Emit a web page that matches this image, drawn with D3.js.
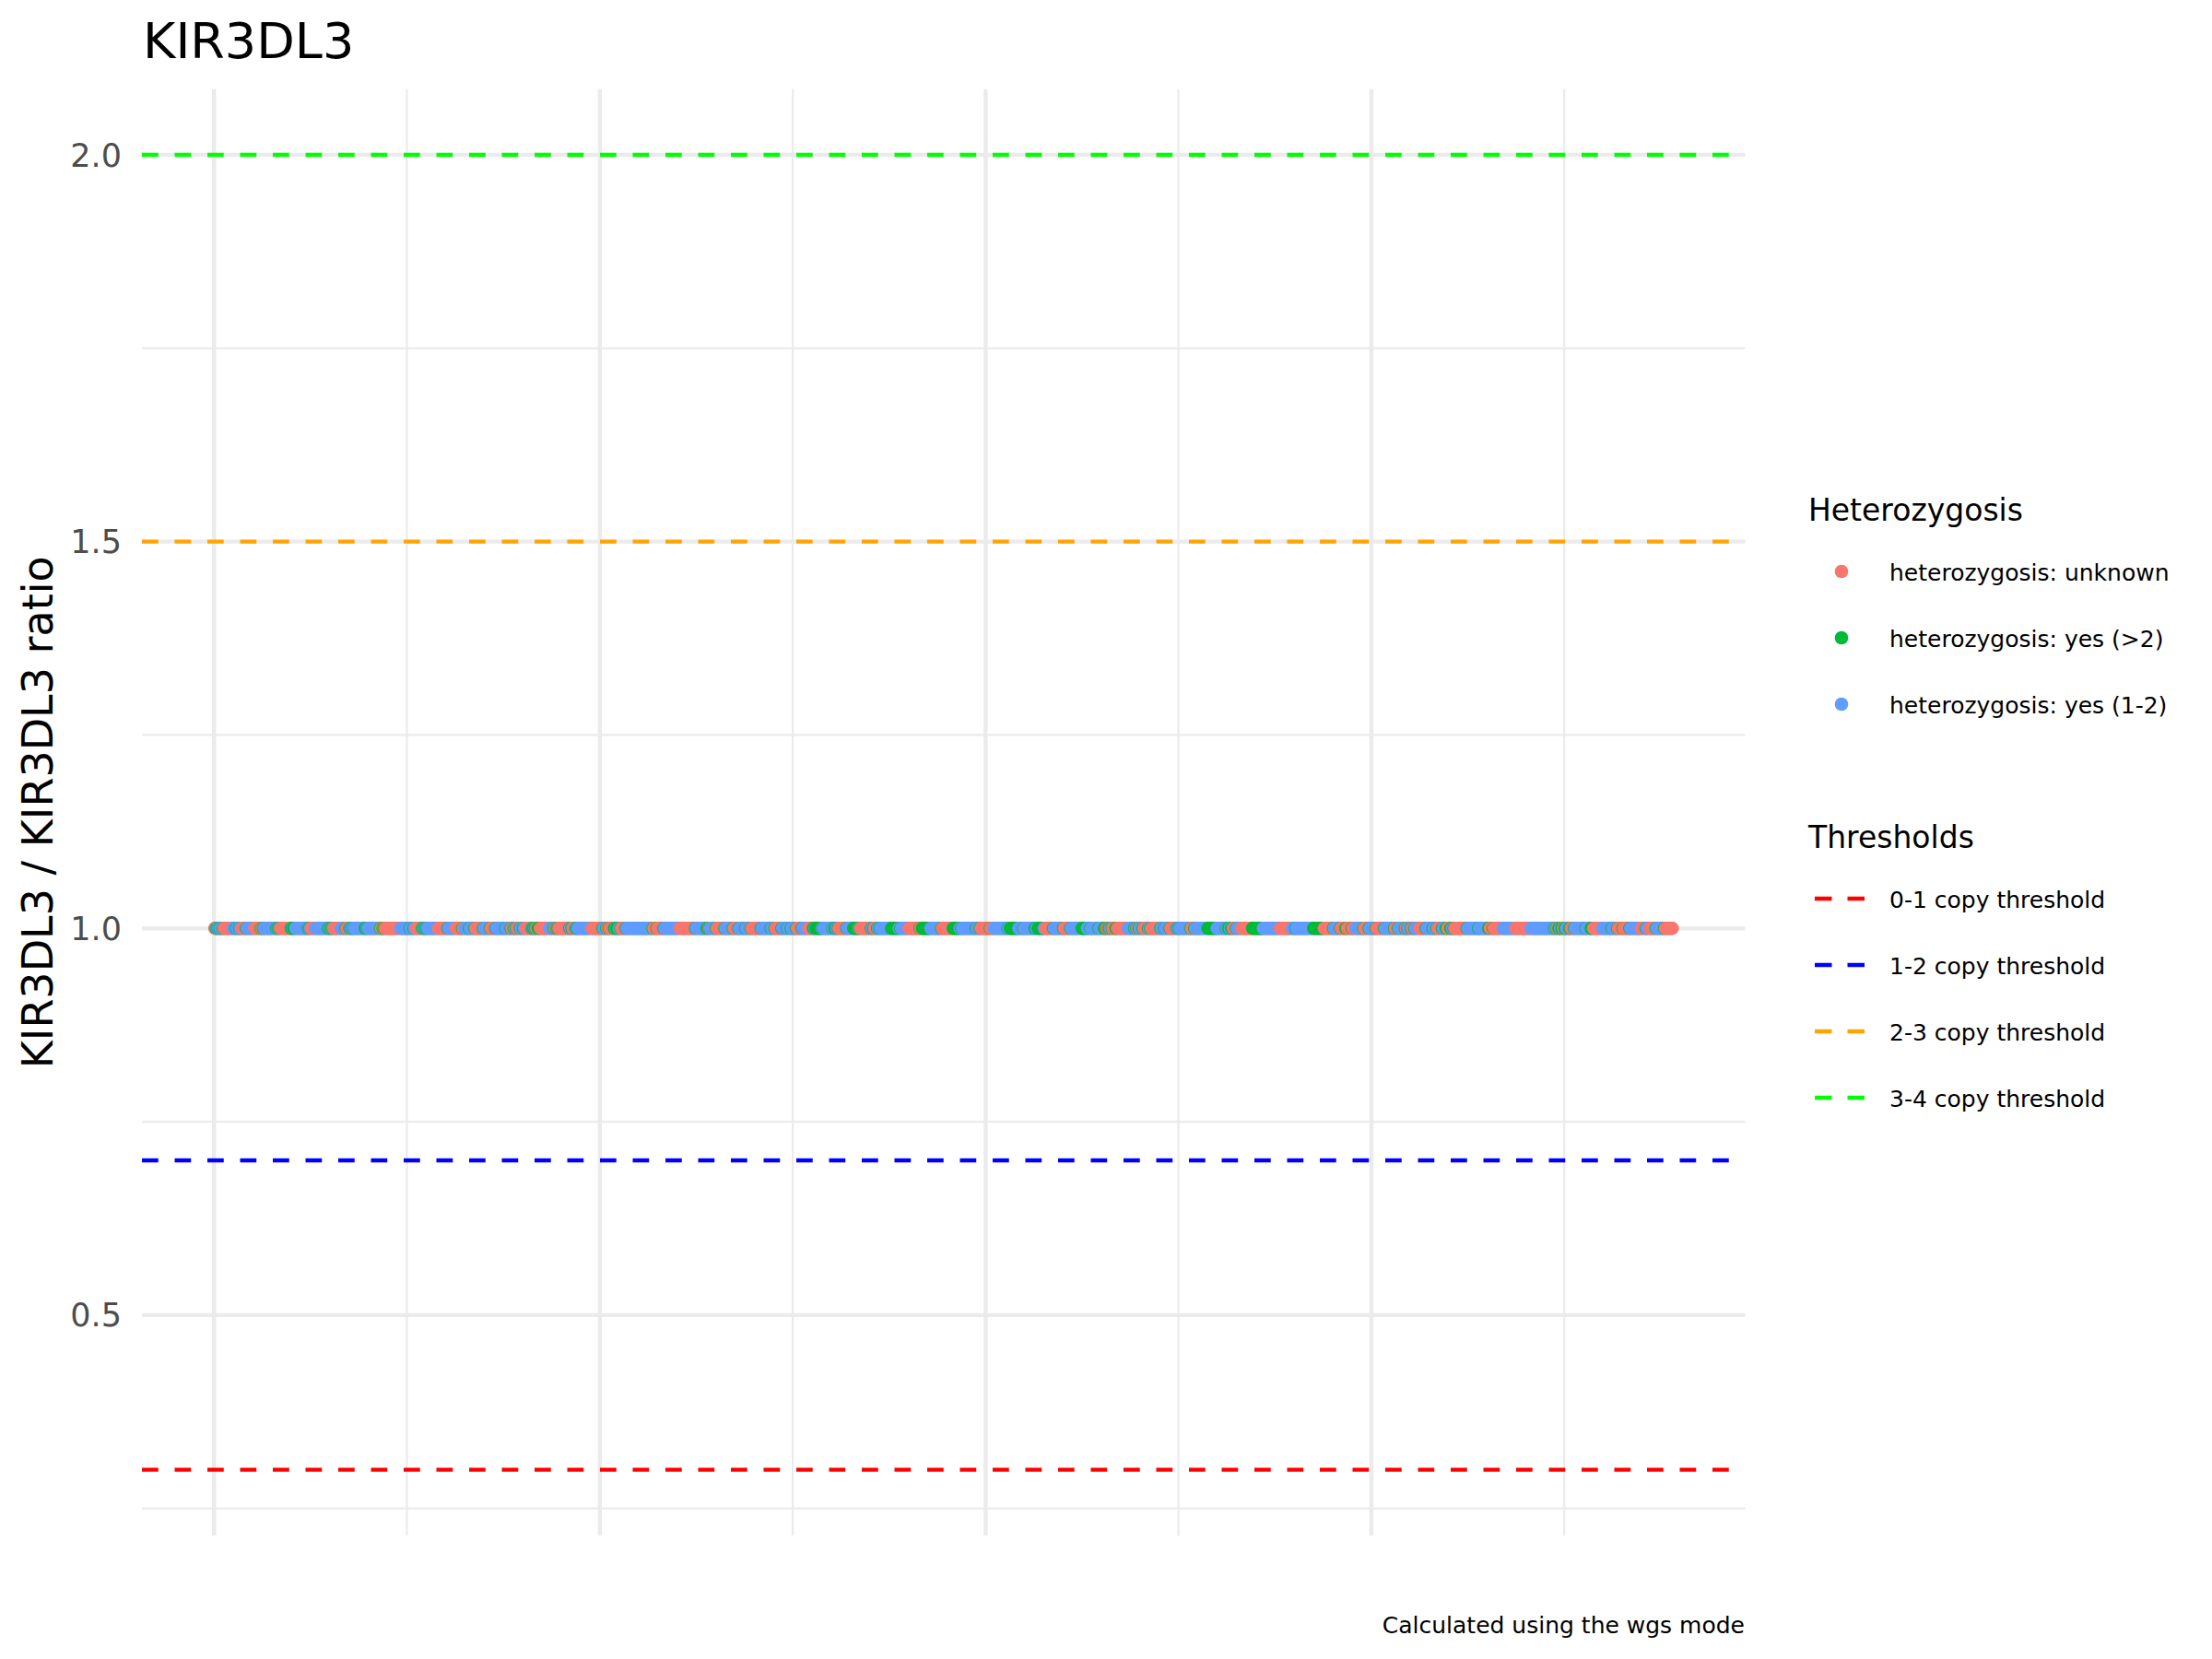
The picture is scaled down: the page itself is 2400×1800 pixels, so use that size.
<!DOCTYPE html>
<html>
<head>
<meta charset="utf-8">
<script src="https://cdn.jsdelivr.net/npm/d3@7"></script>
<style>
  html, body { margin: 0; padding: 0; background: #fff; }
  svg { display: block; font-family: "DejaVu Sans", sans-serif; }
</style>
</head>
<body>
<script>
// ---------------- DATA ----------------
const chartTitle = "KIR3DL3";
const yAxisTitle = "KIR3DL3 / KIR3DL3 ratio";
const captionText = "Calculated using the wgs mode";

const hetCategories = ["heterozygosis: unknown", "heterozygosis: yes (>2)", "heterozygosis: yes (1-2)"];
const hetCodes = ["r", "g", "b"];

// heterozygosis class of every sample in plotting order, run-length encoded (code + count)
const hetRuns = [
  // samples ~1-384
  "r2 g1 b1 g1 b2 g1 b3 g1 r12 b4 g1 b3 g1 b2 r6 g1 b10 r8 g1 r2 g1 b16 g1 b1 g1 b1 g1 r14 g1 g1 b1 g3 b16 g1 b1 g1 b1 r6 b16 g1 b1 g1 b1 g1 b1 g1 r10 b6 g1 r4 g1 b1 g1 b2 g1 b14 g2 b1 g1 b16 g1 r2 g1 r1 g1 r4 r16 b12 g1 b4 g1 b2 r8 g1 b1 g1 b1 g1 b1 g1 b14 r12 g1 b10 r8 g1 r2 b6 g1 b6 g1 r10 g1 b8 g1 r6 g1 b12 g1 b6",
  // samples ~385-770
  "g1 r3 g1 b2 g1 r4 g1 b3 g1 b2 r8 g1 b1 g2 b1 g1 r2 g3 r12 b6 g1 r2 g1 b1 g1 r14 g1 b2 g1 r4 g1 b1 g1 b18 r14 g1 b4 g1 r2 g1 r6 g2 b1 g3 b2 g1 r6 g1 b4 b30 g1 r4 g1 r8 g1 b20 r20 g1 b14 g1 g1 r1 g1 b8 g1 r10 g1 b10 g1 r6 g1 b8 g1 b6 g1 r12 g1 b12 g1 b4 g1 r8 g1 b6 g1 b4 g1 b6 g1 r6 g1 b8",
  // samples ~771-1155
  "r6 g1 g1 b1 g8 b1 g1 b12 g1 b2 g1 g1 b2 g1 r10 g1 b8 g1 g6 b1 g1 r14 g1 b2 g1 r4 g1 b2 g1 b14 g10 b2 g1 b10 r14 g1 r2 g1 g10 b14 g1 r14 g1 g8 b2 g1 b18 g1 b4 g1 r12 g1 r4 b18 g1 b2 g1 g10 b6 g1 b14 g1 g1 b2 g8 b2 r10 g1 b12 g1 r8 g1 b14 g1 g6 b4 g1 b10 g1 b6 g2",
  // samples ~1156-1541
  "g1 r2 g1 r1 g1 b2 g1 r4 g1 g1 r14 b8 g1 b2 g1 r2 g1 b4 g1 r6 g1 b2 g1 r12 g1 b4 g1 b6 g1 r8 g1 b2 g1 b14 g1 r4 g1 b16 g12 b12 g1 b2 g1 g1 b2 g1 g1 r4 g1 b6 r14 g14 b22 r16 b4 g1 b22 g14 r12 g1 b8 g1 r6 g1 g1 r6 g1 r4 b10 g1 r6 g1 b8 g1 r10 g1 b12 g1 r4 g1 b6",
  // samples ~1542-1890
  "b2 g1 r2 g1 b4 g1 r3 g1 b6 r8 g1 b8 g1 b4 g1 r6 g1 b4 g1 g1 r4 g1 g1 b2 g1 r16 g1 b14 g1 b12 g1 g1 r4 g1 r12 b16 r20 b30 g1 b2 g1 r2 g1 g1 b2 g1 g1 r2 g1 g1 b4 g1 g1 r4 g1 b14 g1 b6 g1 g1 g1 r12 b12 g1 b6 g1 r6 g1 r8 g1 b14 r6 g1 b4 r8 g1 b10 g1 r10"
];
// ratio of every sample (all samples sit at 1.0), run-length encoded value*count
const ratioRuns = ["1.0*1890"];

const thresholdLabels = ["0-1 copy threshold", "1-2 copy threshold", "2-3 copy threshold", "3-4 copy threshold"];
const thresholdValues = [0.3, 0.7, 1.5, 2.0];

const yTicks = [0.5, 1.0, 1.5, 2.0];
const yMinorTicks = [0.25, 0.75, 1.25, 1.75];
const xTicks = [0, 500, 1000, 1500];
const xMinorTicks = [250, 750, 1250, 1750];

// ---------------- STYLES ----------------
const hetColors = ["#F8766D", "#00BA38", "#619CFF"];
const thresholdColors = ["#FF0000", "#0000FF", "#FFA500", "#00FF00"];

// ---------------- BUILD TABLE ----------------
const hetSeq = [];
hetRuns.join(" ").trim().split(/\s+/).forEach(tok => {
  const code = tok[0], n = +tok.slice(1);
  for (let i = 0; i < n; i++) hetSeq.push(hetCategories[hetCodes.indexOf(code)]);
});
const ratioSeq = [];
ratioRuns.forEach(tok => {
  const [v, n] = tok.split("*");
  for (let i = 0; i < +n; i++) ratioSeq.push(+v);
});
const N = hetSeq.length;
const samples = hetSeq.map((h, i) => ({ idx: i + 1, het: h, ratio: ratioSeq[Math.min(i, ratioSeq.length - 1)] }));

// ---------------- LAYOUT ----------------
const W = 2400, H = 1800;
const panel = { left: 154, right: 1893.5, top: 96.7, bottom: 1666 };

const svg = d3.select("body").append("svg").attr("width", W).attr("height", H);
svg.append("rect").attr("width", W).attr("height", H).attr("fill", "#fff");

const xExt = [1, N];
const xPad = (xExt[1] - xExt[0]) * 0.05;
const x = d3.scaleLinear().domain([xExt[0] - xPad, xExt[1] + xPad]).range([panel.left, panel.right]);

const yDataExt = d3.extent(thresholdValues.concat(ratioSeq));
const yPad = (yDataExt[1] - yDataExt[0]) * 0.05;
const y = d3.scaleLinear().domain([yDataExt[0] - yPad, yDataExt[1] + yPad]).range([panel.bottom, panel.top]);

const color = d3.scaleOrdinal().domain(hetCategories).range(hetColors);
const tColor = d3.scaleOrdinal().domain(thresholdLabels).range(thresholdColors);

const grid = svg.append("g");
// minor grid
grid.selectAll(".ymin").data(yMinorTicks).join("line")
  .attr("x1", panel.left).attr("x2", panel.right)
  .attr("y1", d => y(d)).attr("y2", d => y(d))
  .attr("stroke", "#EBEBEB").attr("stroke-width", 2.2);
grid.selectAll(".xmin").data(xMinorTicks.filter(d => x(d) >= panel.left && x(d) <= panel.right)).join("line")
  .attr("y1", panel.top).attr("y2", panel.bottom)
  .attr("x1", d => x(d)).attr("x2", d => x(d))
  .attr("stroke", "#EBEBEB").attr("stroke-width", 2.2);
// major grid
grid.selectAll(".ymaj").data(yTicks).join("line")
  .attr("x1", panel.left).attr("x2", panel.right)
  .attr("y1", d => y(d)).attr("y2", d => y(d))
  .attr("stroke", "#EBEBEB").attr("stroke-width", 4.4);
grid.selectAll(".xmaj").data(xTicks).join("line")
  .attr("y1", panel.top).attr("y2", panel.bottom)
  .attr("x1", d => x(d)).attr("x2", d => x(d))
  .attr("stroke", "#EBEBEB").attr("stroke-width", 4.4);

// y axis labels via d3 axis
const yAxis = d3.axisLeft(y).tickValues(yTicks).tickFormat(d3.format(".1f")).tickSize(0).tickPadding(0);
const yg = svg.append("g").attr("transform", `translate(132,0)`).call(yAxis);
yg.select(".domain").remove();
yg.selectAll("text")
  .attr("font-family", "DejaVu Sans").attr("font-size", 35).attr("fill", "#4D4D4D")
  .attr("dy", null).attr("dominant-baseline", "central").attr("x", 0);

// threshold lines
svg.append("g").selectAll("line").data(thresholdValues).join("line")
  .attr("x1", panel.left).attr("x2", panel.right)
  .attr("y1", d => y(d)).attr("y2", d => y(d))
  .attr("stroke", (d, i) => tColor(thresholdLabels[i]))
  .attr("stroke-width", 4.4).attr("stroke-dasharray", "17.75,17.75");

// points
svg.append("g").selectAll("circle").data(samples).join("circle")
  .attr("cx", d => x(d.idx)).attr("cy", d => y(d.ratio)).attr("r", 7.2)
  .attr("fill", d => color(d.het));

// title
svg.append("text").attr("x", 155).attr("y", 63).text(chartTitle)
  .attr("font-size", 54).attr("fill", "#000");

// y axis title
svg.append("text")
  .attr("transform", `translate(57,${(panel.top + panel.bottom) / 2}) rotate(-90)`)
  .attr("text-anchor", "middle").text(yAxisTitle)
  .attr("font-size", 46).attr("fill", "#000");

// caption
svg.append("text").attr("x", 1893).attr("y", 1772).attr("text-anchor", "end")
  .text(captionText).attr("font-size", 25).attr("fill", "#000");

// legends
const leg = svg.append("g");
leg.append("text").attr("x", 1962).attr("y", 565).text("Heterozygosis")
  .attr("font-size", 33).attr("fill", "#000");
const hetKeyY = [620, 692, 764];
hetCategories.forEach((c, i) => {
  leg.append("circle").attr("cx", 1998).attr("cy", hetKeyY[i]).attr("r", 7.3).attr("fill", color(c));
  leg.append("text").attr("x", 2050).attr("y", hetKeyY[i] + 10).text(c)
    .attr("font-size", 25).attr("fill", "#000");
});
leg.append("text").attr("x", 1962).attr("y", 920).text("Thresholds")
  .attr("font-size", 33).attr("fill", "#000");
const thrKeyY = [975, 1047, 1119, 1191];
thresholdLabels.forEach((c, i) => {
  leg.append("line").attr("x1", 1969).attr("x2", 2023)
    .attr("y1", thrKeyY[i]).attr("y2", thrKeyY[i])
    .attr("stroke", tColor(c)).attr("stroke-width", 4.6).attr("stroke-dasharray", "18.5,17");
  leg.append("text").attr("x", 2050).attr("y", thrKeyY[i] + 10).text(c)
    .attr("font-size", 25).attr("fill", "#000");
});
</script>
</body>
</html>
